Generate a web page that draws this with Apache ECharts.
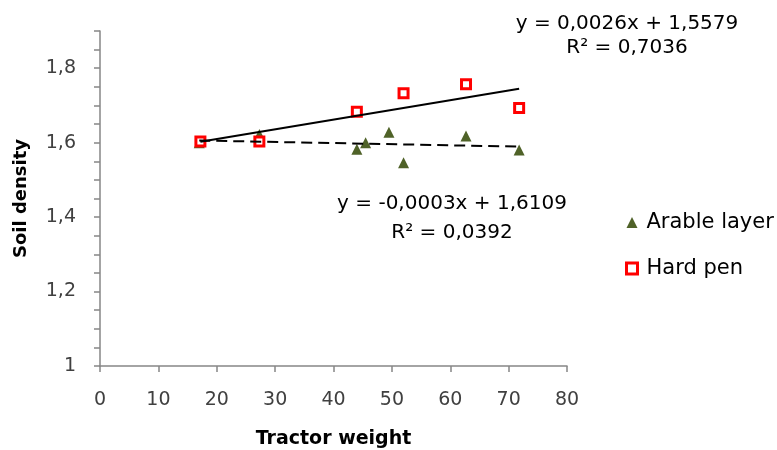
<!DOCTYPE html>
<html>
<head>
<meta charset="utf-8">
<script src="https://cdn.jsdelivr.net/npm/echarts@6/dist/echarts.min.js"></script>
<style>
  html, body { margin: 0; padding: 0; background: #fff; }
  #chart { width: 777px; height: 450px; }
</style>
</head>
<body>
<div id="chart"></div>
<script>
// values
const arableX = [17, 27.3, 44, 45.5, 49.5, 52, 62.7, 71.8];
const arableY = [1.60, 1.622, 1.582, 1.60, 1.628, 1.546, 1.618, 1.580];
const hardX = [17.2, 27.3, 44, 52, 62.7, 71.8];
const hardY = [1.603, 1.603, 1.683, 1.733, 1.757, 1.693];
// trendline coefficients as printed on the chart
const arableFit = { slope: -0.0003, intercept: 1.6109, eq: 'y = -0,0003x + 1,6109', r2: 'R² = 0,0392' };
const hardFit = { slope: 0.0026, intercept: 1.5579, eq: 'y = 0,0026x + 1,5579', r2: 'R² = 0,7036' };

const font = 'DejaVu Sans';
const axisGrey = '#868686';
const pair = (xs, ys) => xs.map((x, i) => [x, ys[i]]);
const trend = (xs, fit) => {
  const lo = Math.min(...xs), hi = Math.max(...xs);
  return [[lo, fit.intercept + fit.slope * lo], [hi, fit.intercept + fit.slope * hi]];
};
const label = (text, x, y) => ({
  type: 'text', x: x, y: y,
  style: { text: text, font: '20px "DejaVu Sans"', fill: '#000', align: 'center', verticalAlign: 'middle' }
});

const chart = echarts.init(document.getElementById('chart'));
chart.setOption({
  animation: false,
  backgroundColor: '#fff',
  textStyle: { fontFamily: font },
  grid: { left: 100, right: 210, top: 31, bottom: 84, outerBoundsMode: 'none' },
  xAxis: {
    type: 'value',
    min: 0, max: 80, interval: 10,
    name: 'Tractor weight',
    nameLocation: 'middle',
    nameGap: 64,
    nameTextStyle: { fontFamily: font, fontWeight: 'bold', fontSize: 19, color: '#000' },
    axisLine: { lineStyle: { color: axisGrey, width: 1.5 } },
    axisTick: { show: true, length: 6, lineStyle: { color: axisGrey, width: 1.5 } },
    axisLabel: { fontSize: 19, color: '#404040', margin: 25 },
    splitLine: { show: false }
  },
  yAxis: {
    type: 'value',
    min: 1, max: 1.9, interval: 0.2,
    name: 'Soil density',
    nameLocation: 'middle',
    nameGap: 70,
    nameRotate: 90,
    nameTextStyle: { fontFamily: font, fontWeight: 'bold', fontSize: 18, color: '#000' },
    axisLine: { show: true, lineStyle: { color: axisGrey, width: 1.5 } },
    axisTick: { show: true, length: 6, lineStyle: { color: axisGrey, width: 1.5 } },
    minorTick: { show: true, splitNumber: 4, length: 6, lineStyle: { color: axisGrey, width: 1.5 } },
    axisLabel: {
      fontSize: 19, color: '#404040', margin: 24,
      formatter: v => (Math.abs(v - 1.9) < 1e-6 ? '' : String(Math.round(v * 10) / 10).replace('.', ','))
    },
    splitLine: { show: false }
  },
  legend: {
    orient: 'vertical',
    left: 620, top: 207,
    itemGap: 25,
    itemWidth: 11, itemHeight: 11,
    textStyle: { fontFamily: font, fontSize: 21, color: '#000', padding: [0, 0, 0, 4] },
    data: [
      { name: 'Arable layer' },
      { name: 'Hard pen', itemStyle: { borderWidth: 3 } }
    ]
  },
  series: [
    {
      name: 'Arable trend', type: 'line', data: trend(arableX, arableFit),
      showSymbol: false, silent: true,
      lineStyle: { color: '#000', width: 2, type: [11, 6] }
    },
    {
      name: 'Hard trend', type: 'line', data: trend(hardX, hardFit),
      showSymbol: false, silent: true,
      lineStyle: { color: '#000', width: 2 }
    },
    {
      name: 'Arable layer', type: 'scatter', data: pair(arableX, arableY),
      symbol: 'triangle', symbolSize: 11,
      itemStyle: { color: '#4f6228', opacity: 1 }
    },
    {
      name: 'Hard pen', type: 'scatter', data: pair(hardX, hardY),
      symbol: 'rect', symbolSize: 9,
      itemStyle: { color: '#fff', borderColor: '#ff0000', borderWidth: 3, opacity: 1 }
    }
  ],
  graphic: [
    label(hardFit.eq, 627, 24),
    label(hardFit.r2, 627, 48),
    label(arableFit.eq, 452, 204),
    label(arableFit.r2, 452, 233)
  ]
});
</script>
</body>
</html>
